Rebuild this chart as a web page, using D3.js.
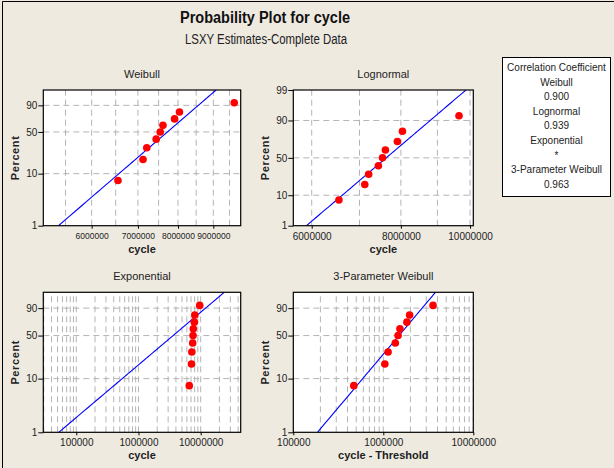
<!DOCTYPE html>
<head>
  <script src="https://cdn.jsdelivr.net/npm/d3@7/dist/d3.min.js"></script>
  <title>Probability Plot for cycle</title>
  <style>
    html, body { margin: 0; background-color: #eeeae0; }
    svg { display: block; font-family: "Liberation Sans", Arial, sans-serif; }
    .tick text { fill: #222; }
    .narrow { font-family: "Liberation Sans Narrow", "Liberation Sans", Arial, sans-serif; }
  </style>
</head>
<body>
<div id="chart"></div>
<script>
  // observed cycles (sorted) and their median-rank plotting positions
  const cycle = [6550000, 7120000, 7210000, 7440000, 7540000, 7610000, 7910000, 8040000, 9650000];
  const percent = [7.45, 18.09, 28.72, 39.36, 50, 60.64, 71.28, 81.91, 92.55];
  const threshold = 6080000;

  // fitted parameters
  const weibullFit = {shape: 11.66, scale: 7970000};
  const lognormalFit = {median: 7630000, sigma: 0.1106};
  const expoFit = {mean: 5200000};
  const weibull3Fit = {shape: 2.03, scale: 1790000};

  const corrNames = ["Weibull", "Lognormal", "Exponential", "3-Parameter Weibull"];
  const corrValues = ["0.900", "0.939", "*", "0.963"];

  const pctTicksW = [1, 10, 50, 90];
  const pctGridW = [10, 50, 90];
  const pctTicksN = [1, 10, 50, 90, 99];

  const weibullXLabels = [6000000, 7000000, 8000000, 9000000];
  const weibullXGrid = [5500000, 6000000, 6500000, 7000000, 7500000, 8000000, 8500000, 9000000, 9500000];
  const lognormXLabels = [6000000, 8000000, 10000000];
  const lognormXGrid = [6000000, 7000000, 8000000, 9000000, 10000000];
  const expoXLabels = [100000, 1000000, 10000000];
  const w3XLabels = [100000, 1000000, 10000000];

  const width = 614, height = 468;

  // inverse normal cdf (Acklam)
  function qnorm(p) {
    const a = [-3.969683028665376e+01, 2.209460984245205e+02, -2.759285104469687e+02, 1.383577518672690e+02, -3.066479806614716e+01, 2.506628277459239e+00];
    const b = [-5.447609879822406e+01, 1.615858368580409e+02, -1.556989798598866e+02, 6.680131188771972e+01, -1.328068155288572e+01];
    const c = [-7.784894002430293e-03, -3.223964580411365e-01, -2.400758277161838e+00, -2.549671666692485e+00, 4.374664141464968e+00, 2.938163982698783e+00];
    const d = [7.784695709041462e-03, 3.224671290700398e-01, 2.445134137142996e+00, 3.754408661907416e+00];
    const pl = 0.02425;
    if (p < pl) {
      const q = Math.sqrt(-2 * Math.log(p));
      return (((((c[0]*q+c[1])*q+c[2])*q+c[3])*q+c[4])*q+c[5]) / ((((d[0]*q+d[1])*q+d[2])*q+d[3])*q+1);
    }
    if (p > 1 - pl) return -qnorm(1 - p);
    const q = p - 0.5, r = q * q;
    return (((((a[0]*r+a[1])*r+a[2])*r+a[3])*r+a[4])*r+a[5])*q / (((((b[0]*r+b[1])*r+b[2])*r+b[3])*r+b[4])*r+1);
  }
  const weibT = pc => Math.log(-Math.log(1 - pc / 100));
  const normT = pc => qnorm(pc / 100);

  const linePcts = d3.range(1, 99.01, 0.5);

  const panels = [
    {title: "Weibull", xlab: "cycle", x0: 43.3, x1: 240.7, y0: 225.7, y1: 90,
     xdom: [5107000, 9860000], xLabels: weibullXLabels, xGrid: weibullXGrid, labelSize: 8.5,
     yt: weibT, yTicks: pctTicksW, xs: cycle,
     fit: pc => weibullFit.scale * Math.pow(-Math.log(1 - pc / 100), 1 / weibullFit.shape)},
    {title: "Lognormal", xlab: "cycle", x0: 293.3, x1: 473.3, y0: 225.7, y1: 90,
     xdom: [5654000, 10105000], xLabels: lognormXLabels, xGrid: lognormXGrid, labelSize: 10,
     yt: normT, yTicks: pctTicksN, xs: cycle,
     fit: pc => lognormalFit.median * Math.exp(lognormalFit.sigma * qnorm(pc / 100))},
    {title: "Exponential", xlab: "cycle", x0: 43.3, x1: 240.7, y0: 432.3, y1: 292.3,
     xdom: [29500, 44000000], xLabels: expoXLabels, xGrid: null, labelSize: 10,
     yt: weibT, yTicks: pctTicksW, xs: cycle,
     fit: pc => -expoFit.mean * Math.log(1 - pc / 100)},
    {title: "3-Parameter Weibull", xlab: "cycle - Threshold", x0: 293.3, x1: 473.3, y0: 432.3, y1: 292.3,
     xdom: [100000, 10000000], xLabels: w3XLabels, xGrid: null, labelSize: 10,
     yt: weibT, yTicks: pctTicksW, xs: cycle.map(v => v - threshold),
     fit: pc => weibull3Fit.scale * Math.pow(-Math.log(1 - pc / 100), 1 / weibull3Fit.shape)}
  ];

  const svg = d3.select("#chart").append("svg").attr("width", width).attr("height", height);

  svg.append("rect").attr("width", width).attr("height", height).attr("fill", "#eeeae0");
  svg.append("path").attr("d", `M2.5,${height} V1.5 H${width}`).attr("fill", "none").attr("stroke", "#000");

  svg.append("text").attr("x", 265).attr("y", 23).attr("text-anchor", "middle")
    .attr("font-size", 16).attr("font-weight", "bold").attr("fill", "#111")
    .attr("textLength", 170).attr("lengthAdjust", "spacingAndGlyphs")
    .text("Probability Plot for cycle");
  svg.append("text").attr("x", 266).attr("y", 44).attr("text-anchor", "middle")
    .attr("font-size", 14).attr("fill", "#222")
    .attr("textLength", 162).attr("lengthAdjust", "spacingAndGlyphs")
    .text("LSXY Estimates-Complete Data");

  panels.forEach((p, i) => {
    const g = svg.append("g");
    const x = d3.scaleLog().domain(p.xdom).range([p.x0, p.x1]);
    const y = d3.scaleLinear().domain([p.yt(1), p.yt(99)]).range([p.y0, p.y1]);
    const clipId = "clip" + i;
    svg.append("clipPath").attr("id", clipId).append("rect")
      .attr("x", p.x0).attr("y", p.y1).attr("width", p.x1 - p.x0).attr("height", p.y0 - p.y1);

    g.append("rect").attr("x", p.x0).attr("y", p.y1).attr("width", p.x1 - p.x0).attr("height", p.y0 - p.y1)
      .attr("fill", "#fff");

    const xGrid = p.xGrid || x.ticks();
    const grid = g.append("g").attr("clip-path", `url(#${clipId})`)
      .attr("stroke", "#b4b4b4").attr("stroke-dasharray", "6,4");
    grid.selectAll(".vg").data(xGrid).join("line")
      .attr("x1", d => x(d)).attr("x2", d => x(d)).attr("y1", p.y0).attr("y2", p.y1);
    grid.selectAll(".hg").data(pctGridW).join("line")
      .attr("x1", p.x0).attr("x2", p.x1).attr("y1", d => y(p.yt(d))).attr("y2", d => y(p.yt(d)));

    const line = d3.line().x(d => x(p.fit(d))).y(d => y(p.yt(d)));
    g.append("path").datum(linePcts).attr("clip-path", `url(#${clipId})`)
      .attr("d", line).attr("fill", "none").attr("stroke", "#0000ff").attr("stroke-width", 1.1);

    g.selectAll(".pt").data(p.xs.map((v, k) => [v, percent[k]])).join("circle")
      .attr("cx", d => x(d[0])).attr("cy", d => y(p.yt(d[1]))).attr("r", 3.8).attr("fill", "#ff0000");

    g.append("rect").attr("x", p.x0).attr("y", p.y1).attr("width", p.x1 - p.x0).attr("height", p.y0 - p.y1)
      .attr("fill", "none").attr("stroke", "#000").attr("stroke-width", 1.2);

    const yAxis = g.append("g").attr("transform", `translate(${p.x0},0)`)
      .call(d3.axisLeft(y).tickValues(p.yTicks.map(p.yt)).tickFormat((d, k) => p.yTicks[k]).tickSize(5).tickPadding(1));
    yAxis.select(".domain").remove();
    yAxis.attr("font-size", 10).attr("class", "narrow");

    const xAxis = g.append("g").attr("transform", `translate(0,${p.y0})`)
      .call(d3.axisBottom(x).tickValues(p.xLabels).tickFormat(d3.format("d")).tickSize(3).tickPadding(4));
    xAxis.select(".domain").remove();
    xAxis.attr("font-size", p.labelSize).attr("class", "narrow");

    g.append("text").attr("x", (p.x0 + p.x1) / 2).attr("y", p.y1 - 12).attr("text-anchor", "middle")
      .attr("class", "narrow").attr("font-size", 11).attr("fill", "#222").text(p.title);

    g.append("text").attr("transform", `translate(${p.x0 - 24},${(p.y0 + p.y1) / 2}) rotate(-90)`)
      .attr("text-anchor", "middle").attr("font-size", 11).attr("font-weight", "bold")
      .attr("letter-spacing", 0.6).attr("fill", "#222").text("Percent");

    g.append("text").attr("x", (p.x0 + p.x1) / 2).attr("y", p.y0 + 27).attr("text-anchor", "middle")
      .attr("font-size", 11).attr("font-weight", "bold").attr("fill", "#222").text(p.xlab);
  });

  // correlation coefficient box
  const lg = svg.append("g");
  lg.append("rect").attr("x", 502.5).attr("y", 57.5).attr("width", 108).attr("height", 139)
    .attr("fill", "#fff").attr("stroke", "#000");
  const lines = ["Correlation Coefficient"];
  corrNames.forEach((n, k) => { lines.push(n); lines.push(corrValues[k]); });
  lg.selectAll("text").data(lines).join("text")
    .attr("class", "narrow").attr("x", 556.5).attr("y", (d, k) => 71 + k * 14.6)
    .attr("text-anchor", "middle").attr("font-size", 10).attr("fill", "#222").text(d => d);
</script>
</body>
